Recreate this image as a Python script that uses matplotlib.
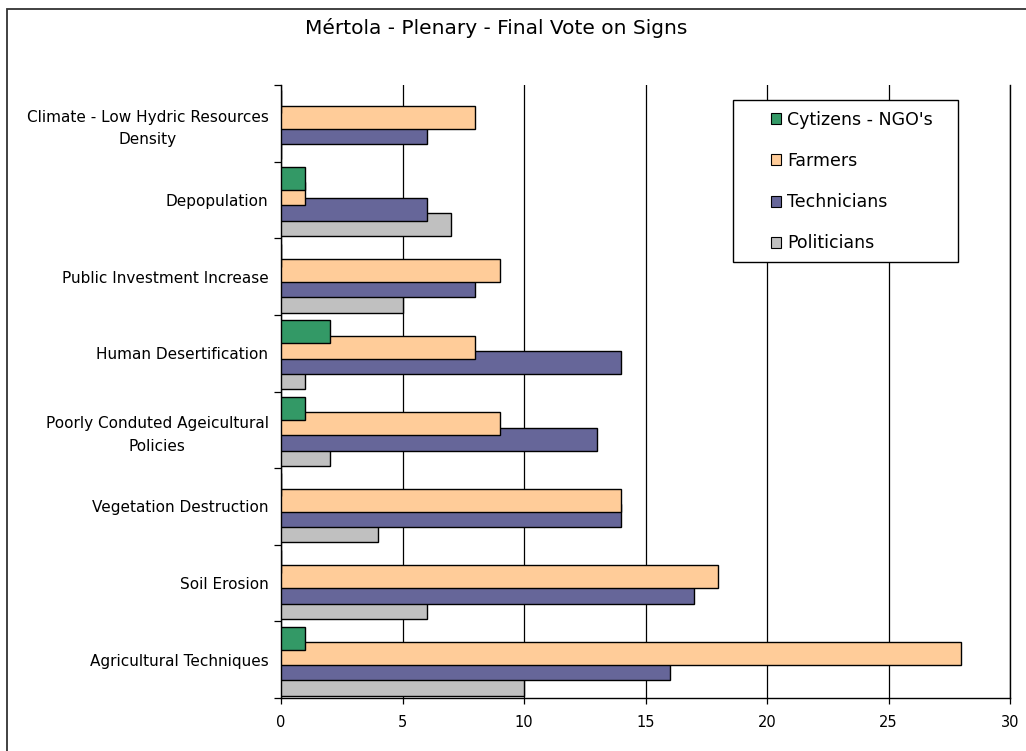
import matplotlib
matplotlib.use("Agg")
import matplotlib.pyplot as plt
from matplotlib.patches import Rectangle, Patch
import numpy as np

plt.rcParams['font.family'] = ['DejaVu Sans']

categories = [
    "Agricultural Techniques",
    "Soil Erosion",
    "Vegetation Destruction",
    "Poorly Conduted Ageicultural\nPolicies",
    "Human Desertification",
    "Public Investment Increase",
    "Depopulation",
    "Climate - Low Hydric Resources\nDensity",
]
series_names = ["Cytizens - NGO's", "Farmers", "Technicians", "Politicians"]
cytizens = [1, 0, 0, 1, 2, 0, 1, 0]
farmers = [28, 18, 14, 9, 8, 9, 1, 8]
technicians = [16, 17, 14, 13, 14, 8, 6, 6]
politicians = [10, 6, 4, 2, 1, 5, 7, 0]
series_colors = ["#339966", "#FFCC99", "#666699", "#C0C0C0"]
x_ticks = [0, 5, 10, 15, 20, 25, 30]

W, H = 1026, 751
fig = plt.figure(figsize=(W / 100, H / 100), dpi=100)
ax_l, ax_r, ax_t, ax_b = 281, 1010, 85, 698
ax = fig.add_axes([ax_l / W, 1 - ax_b / H, (ax_r - ax_l) / W, (ax_b - ax_t) / H])

# outer chart frame
fig.patches.append(Rectangle((7 / W, -0.1), 1.2, 1 - 9 / H + 0.1,
                             transform=fig.transFigure, fill=False,
                             edgecolor="#333333", linewidth=1.3))

y = np.arange(len(categories))
step = 0.2
height = 0.3
all_series = [cytizens, farmers, technicians, politicians]
offsets = [1.5 * step, 0.5 * step, -0.5 * step, -1.5 * step]
# draw bottom series first so upper bars overlap the lower ones
for k in [3, 2, 1, 0]:
    ax.barh(y + offsets[k] - 0.02, all_series[k], height=height,
            color=series_colors[k], edgecolor="black", linewidth=1.0,
            zorder=3 + (3 - k))

ax.set_xlim(0, 30)
ax.set_ylim(-0.5, len(categories) - 0.5)
ax.set_xticks(x_ticks)
ax.xaxis.grid(True, color="black", linewidth=0.9, zorder=1)
ax.set_axisbelow(True)
ax.tick_params(axis="x", direction="out", length=4, width=0.9, labelsize=10.5,
               colors="black", pad=8)

ax.set_yticks(y)
ax.set_yticklabels(categories, ha="right", multialignment="center", linespacing=1.6)
ax.set_yticks(np.arange(len(categories) + 1) - 0.5, minor=True)
ax.tick_params(axis="y", which="major", length=0, labelsize=11, pad=9)
ax.tick_params(axis="y", which="minor", direction="out", length=5, width=0.9)

ax.spines["top"].set_visible(False)
for side in ["left", "bottom", "right"]:
    ax.spines[side].set_linewidth(1.0)
    ax.spines[side].set_color("black")

fig.text(496 / W, 1 - 28 / H, "Mértola - Plenary - Final Vote on Signs",
         ha="center", va="center", fontsize=14.5)

# legend box
lx0, lx1, ly0, ly1 = 733, 958, 100, 262
ax.add_patch(Rectangle(((lx0 - ax_l) / (ax_r - ax_l), (ax_b - ly1) / (ax_b - ax_t)),
                       (lx1 - lx0) / (ax_r - ax_l), (ly1 - ly0) / (ax_b - ax_t),
                       transform=ax.transAxes, facecolor="white", edgecolor="black",
                       linewidth=1.0, zorder=10, clip_on=False))
handles = [Patch(facecolor=c, edgecolor="black", linewidth=0.8) for c in series_colors]
leg = ax.legend(handles, series_names, loc="upper left",
                bbox_to_anchor=((771 - ax_l) / (ax_r - ax_l), (ax_b - 111) / (ax_b - ax_t)),
                frameon=False, fontsize=12.5, handlelength=0.6, handleheight=0.6,
                handletextpad=0.35, labelspacing=1.33, borderpad=0, borderaxespad=0)
leg.set_zorder(11)

fig.savefig("out.png", dpi=100)
